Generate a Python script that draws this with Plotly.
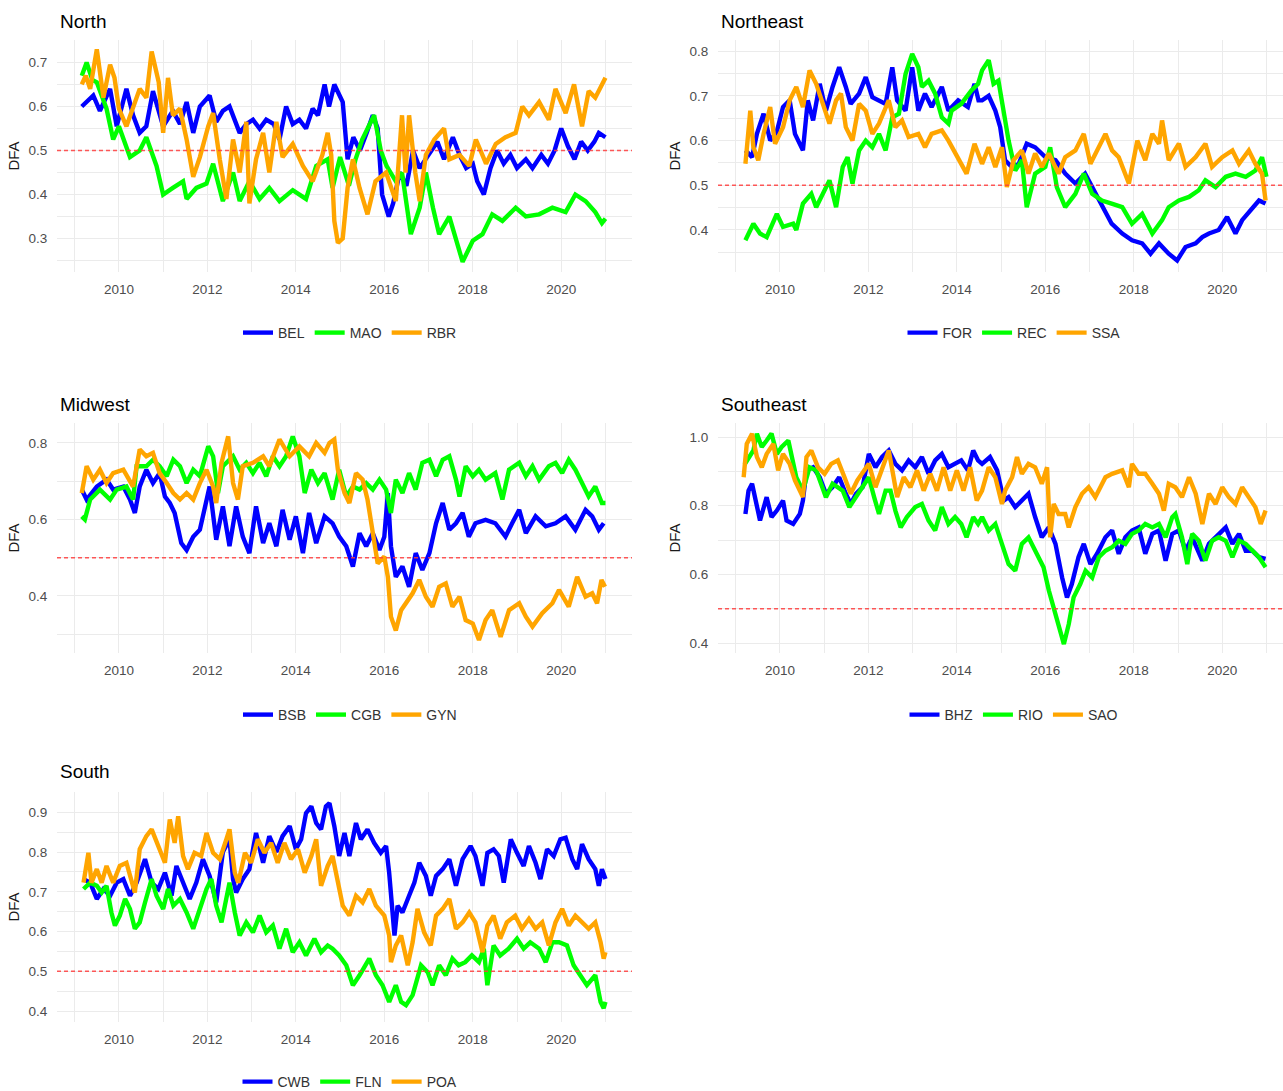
import plotly.graph_objects as go

# ---------------- DATA (decimal years, DFA values) ----------------
# North
BEL_t = [2009.16, 2009.27, 2009.42, 2009.57, 2009.8, 2009.95, 2010.17, 2010.32, 2010.47, 2010.62, 2010.77, 2011.0,
         2011.22, 2011.38, 2011.53, 2011.68, 2011.83, 2012.05, 2012.2, 2012.35, 2012.5, 2012.73, 2012.88, 2013.03,
         2013.18, 2013.33, 2013.5, 2013.63, 2013.78, 2013.93, 2014.08, 2014.23, 2014.38, 2014.5, 2014.65, 2014.75,
         2014.87, 2015.06, 2015.17, 2015.3, 2015.45, 2015.6, 2015.74, 2015.85, 2015.95, 2016.1, 2016.2, 2016.35,
         2016.5, 2016.65, 2016.8, 2017.0, 2017.2, 2017.35, 2017.55, 2017.7, 2017.85, 2018.0, 2018.1, 2018.25,
         2018.4, 2018.55, 2018.7, 2018.85, 2019.0, 2019.2, 2019.35, 2019.55, 2019.7, 2019.85, 2020.0, 2020.15,
         2020.3, 2020.45, 2020.6, 2020.75, 2020.85, 2021.0]
BEL_v = [0.60, 0.61, 0.625, 0.59, 0.64, 0.555, 0.64, 0.58, 0.54, 0.555, 0.635, 0.555,
         0.59, 0.56, 0.61, 0.54, 0.60, 0.625, 0.565, 0.59, 0.60, 0.54, 0.56, 0.57,
         0.55, 0.57, 0.56, 0.525, 0.60, 0.56, 0.57, 0.55, 0.595, 0.58, 0.65, 0.60,
         0.65, 0.61, 0.48, 0.53, 0.50, 0.54, 0.58, 0.55, 0.40, 0.35, 0.38, 0.45,
         0.42, 0.50, 0.46, 0.49, 0.52, 0.48, 0.53, 0.49, 0.46, 0.47, 0.43, 0.40,
         0.46, 0.50, 0.47, 0.49, 0.46, 0.48, 0.46, 0.49, 0.47, 0.50, 0.55, 0.51,
         0.48, 0.52, 0.50, 0.52, 0.54, 0.53]
MAO_t = [2009.16, 2009.27, 2009.4, 2009.5, 2009.72, 2009.87, 2010.0, 2010.25, 2010.47, 2010.62, 2010.85, 2011.0,
         2011.22, 2011.45, 2011.53, 2011.75, 2011.98, 2012.13, 2012.35, 2012.58, 2012.73, 2012.95, 2013.18, 2013.4,
         2013.63, 2013.93, 2014.23, 2014.46, 2014.72, 2014.83, 2015.0, 2015.2, 2015.35, 2015.5, 2015.77, 2015.92,
         2016.05, 2016.26, 2016.4, 2016.6, 2016.8, 2016.94, 2017.1, 2017.24, 2017.47, 2017.62, 2017.77, 2018.0,
         2018.22, 2018.44, 2018.67, 2018.97, 2019.2, 2019.5, 2019.8, 2020.1, 2020.32, 2020.55, 2020.77, 2020.92,
         2021.0]
MAO_v = [0.67, 0.70, 0.66, 0.655, 0.595, 0.525, 0.555, 0.485, 0.50, 0.53, 0.465, 0.40,
         0.415, 0.43, 0.39, 0.415, 0.425, 0.47, 0.385, 0.45, 0.385, 0.43, 0.39, 0.415,
         0.385, 0.41, 0.39, 0.465, 0.48, 0.415, 0.485, 0.42, 0.48, 0.525, 0.58, 0.50,
         0.465, 0.43, 0.45, 0.31, 0.37, 0.45, 0.37, 0.31, 0.35, 0.295, 0.247, 0.295,
         0.31, 0.355, 0.34, 0.37, 0.35, 0.355, 0.37, 0.36, 0.40, 0.385, 0.36, 0.335,
         0.345]
RBR_t = [2009.16, 2009.25, 2009.35, 2009.5, 2009.65, 2009.8, 2009.9, 2010.0, 2010.17, 2010.32, 2010.47, 2010.62,
         2010.74, 2010.9, 2011.0, 2011.11, 2011.22, 2011.38, 2011.53, 2011.68, 2011.83, 2012.02, 2012.13, 2012.28,
         2012.43, 2012.58, 2012.73, 2012.88, 2012.95, 2013.1, 2013.26, 2013.4, 2013.56, 2013.7, 2013.93, 2014.16,
         2014.38, 2014.6, 2014.72, 2014.8, 2014.87, 2014.95, 2015.06, 2015.17, 2015.29, 2015.44, 2015.62, 2015.8,
         2016.04, 2016.26, 2016.4, 2016.48, 2016.56, 2016.7, 2016.8, 2016.94, 2017.13, 2017.35, 2017.47, 2017.7,
         2017.92, 2018.07, 2018.3, 2018.52, 2018.74, 2018.97, 2019.12, 2019.27, 2019.5, 2019.72, 2019.87, 2020.1,
         2020.29, 2020.47, 2020.62, 2020.77, 2020.92, 2021.0]
RBR_v = [0.65, 0.67, 0.64, 0.73, 0.62, 0.695, 0.665, 0.595, 0.555, 0.595, 0.64, 0.62,
         0.725, 0.655, 0.54, 0.665, 0.58, 0.595, 0.525, 0.44, 0.485, 0.555, 0.585, 0.48,
         0.39, 0.525, 0.45, 0.565, 0.38, 0.48, 0.54, 0.45, 0.565, 0.485, 0.515, 0.465,
         0.43, 0.49, 0.54, 0.49, 0.34, 0.29, 0.30, 0.415, 0.48, 0.415, 0.355, 0.43,
         0.45, 0.385, 0.58, 0.45, 0.58, 0.45, 0.385, 0.49, 0.525, 0.55, 0.48, 0.49,
         0.465, 0.525, 0.47, 0.515, 0.53, 0.54, 0.60, 0.58, 0.61, 0.57, 0.64, 0.585,
         0.65, 0.555, 0.635, 0.62, 0.65, 0.665]

# Northeast
FOR_t = [2009.22, 2009.37, 2009.48, 2009.63, 2009.78, 2009.93, 2010.07, 2010.22, 2010.34, 2010.52, 2010.63, 2010.75,
         2010.9, 2011.04, 2011.19, 2011.34, 2011.49, 2011.6, 2011.79, 2011.94, 2012.09, 2012.24, 2012.39, 2012.54,
         2012.65, 2012.84, 2012.99, 2013.13, 2013.28, 2013.43, 2013.66, 2013.81, 2014.03, 2014.25, 2014.4, 2014.49,
         2014.57, 2014.72, 2014.87, 2014.98, 2015.09, 2015.25, 2015.4, 2015.58, 2015.77, 2016.0, 2016.23, 2016.45,
         2016.68, 2016.9, 2017.06, 2017.28, 2017.5, 2017.74, 2017.96, 2018.19, 2018.38, 2018.57, 2018.79, 2018.98,
         2019.17, 2019.4, 2019.55, 2019.7, 2019.92, 2020.11, 2020.3, 2020.45, 2020.68, 2020.83, 2020.98]
FOR_v = [0.578, 0.563, 0.615, 0.66, 0.60, 0.62, 0.675, 0.69, 0.615, 0.578, 0.69, 0.645,
         0.727, 0.667, 0.72, 0.764, 0.72, 0.682, 0.705, 0.742, 0.697, 0.69, 0.682, 0.764,
         0.69, 0.667, 0.764, 0.667, 0.705, 0.675, 0.72, 0.667, 0.69, 0.675, 0.727, 0.69,
         0.69, 0.70, 0.667, 0.63, 0.556, 0.54, 0.548, 0.593, 0.585, 0.563, 0.556, 0.526,
         0.504, 0.526, 0.496, 0.451, 0.414, 0.392, 0.377, 0.37, 0.347, 0.37, 0.347, 0.332,
         0.362, 0.37, 0.384, 0.392, 0.40, 0.429, 0.392, 0.422, 0.451, 0.466, 0.459]
REC_t = [2009.22, 2009.4, 2009.55, 2009.7, 2009.93, 2010.07, 2010.3, 2010.37, 2010.52, 2010.71, 2010.82, 2010.97,
         2011.12, 2011.27, 2011.42, 2011.53, 2011.64, 2011.79, 2011.94, 2012.09, 2012.24, 2012.39, 2012.54, 2012.69,
         2012.84, 2012.99, 2013.13, 2013.21, 2013.36, 2013.51, 2013.66, 2013.81, 2013.88, 2014.1, 2014.33, 2014.48,
         2014.57, 2014.72, 2014.83, 2014.94, 2015.06, 2015.17, 2015.32, 2015.47, 2015.58, 2015.77, 2016.0, 2016.11,
         2016.26, 2016.45, 2016.68, 2016.87, 2017.06, 2017.28, 2017.5, 2017.74, 2017.96, 2018.19, 2018.42, 2018.64,
         2018.79, 2019.02, 2019.25, 2019.47, 2019.62, 2019.85, 2020.08, 2020.3, 2020.53, 2020.75, 2020.9, 2021.0]
REC_v = [0.377, 0.414, 0.392, 0.384, 0.436, 0.407, 0.414, 0.40, 0.459, 0.481, 0.451, 0.481,
         0.511, 0.451, 0.541, 0.563, 0.504, 0.578, 0.60, 0.585, 0.615, 0.578, 0.652, 0.66,
         0.749, 0.794, 0.764, 0.72, 0.734, 0.705, 0.652, 0.638, 0.667, 0.682, 0.712, 0.727,
         0.757, 0.78, 0.727, 0.734, 0.66, 0.60, 0.533, 0.556, 0.451, 0.526, 0.541, 0.585,
         0.496, 0.451, 0.481, 0.526, 0.481, 0.466, 0.459, 0.451, 0.414, 0.436, 0.392, 0.422,
         0.451, 0.466, 0.474, 0.489, 0.511, 0.496, 0.519, 0.526, 0.519, 0.533, 0.563, 0.519]
SSA_t = [2009.22, 2009.33, 2009.4, 2009.51, 2009.63, 2009.78, 2009.89, 2010.07, 2010.22, 2010.37, 2010.52, 2010.67,
         2010.82, 2010.97, 2011.12, 2011.27, 2011.38, 2011.49, 2011.64, 2011.79, 2011.94, 2012.09, 2012.24, 2012.46,
         2012.61, 2012.76, 2012.91, 2013.13, 2013.28, 2013.43, 2013.66, 2013.81, 2013.96, 2014.1, 2014.22, 2014.4,
         2014.57, 2014.72, 2014.87, 2015.02, 2015.13, 2015.28, 2015.47, 2015.62, 2015.77, 2015.92, 2016.08, 2016.3,
         2016.45, 2016.68, 2016.87, 2017.02, 2017.21, 2017.36, 2017.51, 2017.66, 2017.89, 2018.08, 2018.26, 2018.42,
         2018.57, 2018.64, 2018.79, 2019.02, 2019.17, 2019.4, 2019.62, 2019.77, 2020.0, 2020.23, 2020.38, 2020.6,
         2020.75, 2020.9, 2020.98]
SSA_v = [0.548, 0.667, 0.585, 0.556, 0.615, 0.675, 0.593, 0.63, 0.69, 0.72, 0.675, 0.757,
         0.727, 0.682, 0.638, 0.69, 0.705, 0.63, 0.60, 0.682, 0.667, 0.615, 0.638, 0.69,
         0.63, 0.645, 0.608, 0.615, 0.585, 0.615, 0.623, 0.60, 0.571, 0.548, 0.526, 0.593,
         0.548, 0.585, 0.541, 0.585, 0.496, 0.556, 0.578, 0.526, 0.571, 0.541, 0.571, 0.526,
         0.563, 0.578, 0.615, 0.548, 0.585, 0.615, 0.578, 0.563, 0.504, 0.60, 0.556, 0.615,
         0.593, 0.645, 0.556, 0.593, 0.541, 0.563, 0.593, 0.541, 0.563, 0.578, 0.548, 0.578,
         0.548, 0.526, 0.466]

# Midwest
BSB_t = [2009.16, 2009.27, 2009.5, 2009.72, 2009.87, 2010.1, 2010.25, 2010.36, 2010.47, 2010.62, 2010.77, 2010.92,
         2011.04, 2011.15, 2011.26, 2011.41, 2011.53, 2011.68, 2011.83, 2011.98, 2012.05, 2012.2, 2012.35, 2012.5,
         2012.65, 2012.8, 2012.95, 2013.1, 2013.26, 2013.4, 2013.56, 2013.7, 2013.86, 2014.0, 2014.16, 2014.3,
         2014.46, 2014.65, 2014.83, 2014.98, 2015.14, 2015.29, 2015.44, 2015.59, 2015.74, 2015.89, 2016.0, 2016.08,
         2016.15, 2016.26, 2016.41, 2016.56, 2016.71, 2016.86, 2017.02, 2017.17, 2017.32, 2017.47, 2017.62, 2017.77,
         2017.91, 2018.06, 2018.29, 2018.51, 2018.74, 2018.89, 2019.05, 2019.2, 2019.42, 2019.65, 2019.87, 2020.1,
         2020.32, 2020.55, 2020.7, 2020.85, 2020.96]
BSB_v = [0.678, 0.652, 0.686, 0.704, 0.678, 0.686, 0.652, 0.617, 0.686, 0.73, 0.695, 0.721,
         0.66, 0.643, 0.617, 0.538, 0.52, 0.555, 0.573, 0.652, 0.686, 0.547, 0.634, 0.53,
         0.634, 0.555, 0.512, 0.634, 0.538, 0.59, 0.53, 0.625, 0.547, 0.608, 0.512, 0.617,
         0.538, 0.608, 0.59, 0.555, 0.53, 0.477, 0.564, 0.53, 0.564, 0.52, 0.555, 0.669,
         0.53, 0.45, 0.477, 0.424, 0.512, 0.468, 0.512, 0.59, 0.643, 0.573, 0.59, 0.617,
         0.555, 0.59, 0.599, 0.59, 0.555, 0.59, 0.625, 0.564, 0.608, 0.582, 0.59, 0.608,
         0.573, 0.625, 0.608, 0.573, 0.59]
CGB_t = [2009.16, 2009.23, 2009.35, 2009.57, 2009.8, 2009.95, 2010.17, 2010.32, 2010.4, 2010.62, 2010.77, 2010.92,
         2011.08, 2011.23, 2011.38, 2011.53, 2011.68, 2011.83, 2012.02, 2012.13, 2012.24, 2012.35, 2012.58, 2012.73,
         2012.88, 2013.03, 2013.18, 2013.33, 2013.48, 2013.63, 2013.78, 2013.93, 2014.08, 2014.2, 2014.35, 2014.5,
         2014.65, 2014.83, 2014.98, 2015.14, 2015.29, 2015.44, 2015.59, 2015.74, 2015.89, 2016.04, 2016.15, 2016.26,
         2016.41, 2016.56, 2016.71, 2016.86, 2017.02, 2017.17, 2017.32, 2017.47, 2017.62, 2017.7, 2017.84, 2018.0,
         2018.14, 2018.29, 2018.51, 2018.67, 2018.82, 2019.05, 2019.2, 2019.35, 2019.5, 2019.72, 2019.87, 2020.02,
         2020.17, 2020.32, 2020.47, 2020.62, 2020.77, 2020.92, 2021.0]
CGB_v = [0.608, 0.60, 0.652, 0.678, 0.652, 0.678, 0.686, 0.652, 0.739, 0.739, 0.756, 0.739,
         0.713, 0.756, 0.739, 0.695, 0.73, 0.713, 0.791, 0.765, 0.669, 0.739, 0.765, 0.73,
         0.748, 0.721, 0.748, 0.713, 0.765, 0.739, 0.765, 0.817, 0.765, 0.669, 0.73, 0.695,
         0.721, 0.652, 0.73, 0.66, 0.686, 0.678, 0.695, 0.678, 0.704, 0.678, 0.617, 0.704,
         0.669, 0.721, 0.678, 0.748, 0.756, 0.713, 0.756, 0.765, 0.704, 0.66, 0.739, 0.713,
         0.73, 0.704, 0.721, 0.652, 0.73, 0.748, 0.713, 0.739, 0.704, 0.739, 0.748, 0.721,
         0.756, 0.73, 0.695, 0.66, 0.686, 0.643, 0.643]
GYN_t = [2009.16, 2009.27, 2009.42, 2009.57, 2009.72, 2009.87, 2010.1, 2010.32, 2010.47, 2010.62, 2010.77, 2010.92,
         2011.08, 2011.23, 2011.38, 2011.53, 2011.68, 2011.83, 2011.98, 2012.13, 2012.2, 2012.32, 2012.47, 2012.58,
         2012.69, 2012.8, 2013.03, 2013.26, 2013.4, 2013.63, 2013.86, 2014.08, 2014.3, 2014.46, 2014.65, 2014.76,
         2014.87, 2014.95, 2015.1, 2015.21, 2015.36, 2015.51, 2015.62, 2015.74, 2015.85, 2016.0, 2016.08, 2016.15,
         2016.26, 2016.38, 2016.49, 2016.64, 2016.79, 2016.94, 2017.09, 2017.24, 2017.39, 2017.54, 2017.7, 2017.84,
         2018.0, 2018.14, 2018.29, 2018.44, 2018.63, 2018.82, 2019.05, 2019.2, 2019.35, 2019.57, 2019.8, 2019.95,
         2020.17, 2020.36, 2020.55, 2020.7, 2020.81, 2020.91, 2020.99]
GYN_v = [0.669, 0.739, 0.704, 0.73, 0.695, 0.721, 0.73, 0.686, 0.783, 0.765, 0.774, 0.721,
         0.695, 0.669, 0.652, 0.669, 0.652, 0.695, 0.73, 0.686, 0.643, 0.748, 0.817, 0.695,
         0.652, 0.739, 0.748, 0.765, 0.739, 0.809, 0.765, 0.791, 0.765, 0.80, 0.774, 0.80,
         0.809, 0.73, 0.669, 0.643, 0.721, 0.704, 0.652, 0.555, 0.485, 0.503, 0.45, 0.346,
         0.31, 0.363, 0.381, 0.407, 0.442, 0.398, 0.372, 0.424, 0.433, 0.372, 0.398, 0.337,
         0.328, 0.285, 0.337, 0.363, 0.293, 0.363, 0.381, 0.346, 0.32, 0.355, 0.381, 0.416,
         0.372, 0.45, 0.398, 0.407, 0.381, 0.442, 0.424]

# Southeast
BHZ_t = [2009.22, 2009.29, 2009.37, 2009.48, 2009.55, 2009.7, 2009.81, 2009.93, 2010.07, 2010.15, 2010.3, 2010.45,
         2010.52, 2010.6, 2010.75, 2010.9, 2011.04, 2011.19, 2011.34, 2011.49, 2011.6, 2011.72, 2011.87, 2012.01,
         2012.16, 2012.31, 2012.46, 2012.61, 2012.76, 2012.91, 2013.06, 2013.21, 2013.36, 2013.51, 2013.66, 2013.81,
         2013.96, 2014.1, 2014.25, 2014.37, 2014.48, 2014.57, 2014.75, 2014.91, 2015.06, 2015.17, 2015.32, 2015.47,
         2015.62, 2015.77, 2015.92, 2016.08, 2016.23, 2016.38, 2016.49, 2016.6, 2016.75, 2016.87, 2017.02, 2017.17,
         2017.36, 2017.51, 2017.66, 2017.81, 2017.96, 2018.11, 2018.26, 2018.42, 2018.57, 2018.72, 2018.87, 2019.02,
         2019.17, 2019.32, 2019.55, 2019.7, 2019.85, 2020.08, 2020.23, 2020.38, 2020.53, 2020.68, 2020.83, 2020.98]
BHZ_v = [0.776, 0.844, 0.864, 0.796, 0.757, 0.825, 0.767, 0.786, 0.815, 0.757, 0.747, 0.776,
         0.815, 0.903, 0.912, 0.883, 0.835, 0.854, 0.883, 0.835, 0.805, 0.835, 0.854, 0.951,
         0.912, 0.942, 0.961, 0.922, 0.903, 0.932, 0.912, 0.942, 0.893, 0.932, 0.951, 0.912,
         0.922, 0.932, 0.903, 0.961, 0.932, 0.922, 0.942, 0.903, 0.815, 0.825, 0.796, 0.815,
         0.835, 0.767, 0.708, 0.737, 0.689, 0.591, 0.533, 0.572, 0.65, 0.689, 0.63, 0.66,
         0.708, 0.728, 0.66, 0.708, 0.728, 0.737, 0.66, 0.718, 0.728, 0.64, 0.718, 0.728,
         0.669, 0.708, 0.64, 0.689, 0.708, 0.737, 0.689, 0.718, 0.669, 0.669, 0.65, 0.645]
RIO_t = [2009.2, 2009.4, 2009.48, 2009.59, 2009.7, 2009.81, 2009.93, 2010.04, 2010.19, 2010.26, 2010.37, 2010.52,
         2010.67, 2010.82, 2010.97, 2011.04, 2011.19, 2011.42, 2011.57, 2011.72, 2011.87, 2012.01, 2012.13, 2012.24,
         2012.39, 2012.5, 2012.61, 2012.73, 2012.87, 2013.06, 2013.21, 2013.36, 2013.51, 2013.66, 2013.81, 2013.96,
         2014.1, 2014.22, 2014.37, 2014.48, 2014.57, 2014.72, 2014.87, 2015.02, 2015.17, 2015.32, 2015.47, 2015.62,
         2015.77, 2015.96, 2016.08, 2016.19, 2016.3, 2016.42, 2016.53, 2016.64, 2016.79, 2016.91, 2017.06, 2017.21,
         2017.36, 2017.51, 2017.66, 2017.81, 2017.96, 2018.11, 2018.26, 2018.42, 2018.57, 2018.72, 2018.87, 2018.94,
         2019.09, 2019.21, 2019.32, 2019.47, 2019.62, 2019.77, 2019.92, 2020.08, 2020.23, 2020.38, 2020.53, 2020.68,
         2020.83, 2020.98]
RIO_v = [0.92, 0.961, 1.01, 0.971, 0.99, 1.01, 0.951, 0.971, 0.99, 0.942, 0.883, 0.844,
         0.912, 0.903, 0.854, 0.825, 0.864, 0.844, 0.796, 0.825, 0.854, 0.883, 0.825, 0.776,
         0.844, 0.844, 0.786, 0.737, 0.767, 0.796, 0.805, 0.757, 0.728, 0.796, 0.747, 0.767,
         0.747, 0.708, 0.767, 0.747, 0.767, 0.728, 0.747, 0.689, 0.63, 0.611, 0.689, 0.708,
         0.669, 0.621, 0.553, 0.504, 0.455, 0.397, 0.455, 0.533, 0.572, 0.611, 0.591, 0.65,
         0.669, 0.679, 0.698, 0.689, 0.718, 0.728, 0.747, 0.737, 0.747, 0.708, 0.767, 0.776,
         0.708, 0.63, 0.718, 0.698, 0.64, 0.698, 0.708, 0.698, 0.65, 0.698, 0.689, 0.669,
         0.65, 0.621]
SAO_t = [2009.18, 2009.25, 2009.37, 2009.48, 2009.59, 2009.7, 2009.85, 2009.96, 2010.07, 2010.22, 2010.34, 2010.45,
         2010.52, 2010.6, 2010.71, 2010.86, 2011.01, 2011.16, 2011.31, 2011.46, 2011.6, 2011.75, 2011.9, 2012.01,
         2012.16, 2012.31, 2012.46, 2012.57, 2012.65, 2012.8, 2012.95, 2013.1, 2013.25, 2013.4, 2013.55, 2013.7,
         2013.85, 2014.0, 2014.15, 2014.3, 2014.45, 2014.57, 2014.72, 2014.87, 2015.02, 2015.09, 2015.25, 2015.36,
         2015.47, 2015.62, 2015.77, 2015.92, 2016.04, 2016.11, 2016.19, 2016.3, 2016.45, 2016.53, 2016.68, 2016.83,
         2016.98, 2017.13, 2017.36, 2017.51, 2017.74, 2017.89, 2017.96, 2018.11, 2018.26, 2018.42, 2018.57, 2018.68,
         2018.79, 2018.94, 2019.09, 2019.25, 2019.4, 2019.55, 2019.7, 2019.85, 2020.0, 2020.15, 2020.3, 2020.45,
         2020.6, 2020.75, 2020.87, 2020.98]
SAO_v = [0.883, 0.98, 1.01, 0.942, 0.912, 0.951, 0.98, 0.903, 0.951, 0.922, 0.874, 0.844,
         0.825, 0.942, 0.961, 0.912, 0.893, 0.922, 0.932, 0.883, 0.835, 0.874, 0.903, 0.922,
         0.854, 0.912, 0.961, 0.883, 0.825, 0.883, 0.854, 0.903, 0.844, 0.893, 0.844, 0.912,
         0.844, 0.903, 0.844, 0.912, 0.815, 0.844, 0.912, 0.883, 0.805, 0.844, 0.883, 0.942,
         0.893, 0.922, 0.912, 0.864, 0.912, 0.708, 0.805, 0.776, 0.776, 0.737, 0.796, 0.835,
         0.854, 0.825, 0.883, 0.893, 0.903, 0.854, 0.922, 0.893, 0.893, 0.864, 0.835, 0.786,
         0.864, 0.854, 0.825, 0.883, 0.835, 0.747, 0.835, 0.805, 0.854, 0.825, 0.805, 0.854,
         0.825, 0.796, 0.747, 0.786]

# South
CWB_t = [2009.2, 2009.35, 2009.5, 2009.65, 2009.8, 2009.95, 2010.1, 2010.25, 2010.4, 2010.59, 2010.74, 2010.89,
         2011.04, 2011.19, 2011.3, 2011.45, 2011.6, 2011.75, 2011.9, 2012.05, 2012.2, 2012.35, 2012.5, 2012.58,
         2012.65, 2012.8, 2012.95, 2013.1, 2013.26, 2013.4, 2013.56, 2013.7, 2013.86, 2014.0, 2014.12, 2014.23,
         2014.35, 2014.46, 2014.57, 2014.68, 2014.76, 2014.87, 2014.98, 2015.1, 2015.21, 2015.36, 2015.47, 2015.62,
         2015.77, 2015.92, 2016.04, 2016.11, 2016.19, 2016.23, 2016.3, 2016.41, 2016.56, 2016.68, 2016.79, 2016.94,
         2017.05, 2017.17, 2017.32, 2017.47, 2017.62, 2017.77, 2017.95, 2018.06, 2018.22, 2018.33, 2018.47, 2018.59,
         2018.7, 2018.86, 2019.0, 2019.15, 2019.27, 2019.42, 2019.53, 2019.68, 2019.83, 2019.98, 2020.1, 2020.25,
         2020.36, 2020.47, 2020.62, 2020.77, 2020.85, 2020.92, 2021.0]
CWB_v = [0.732, 0.723, 0.682, 0.707, 0.69, 0.723, 0.732, 0.69, 0.723, 0.782, 0.723, 0.707,
         0.748, 0.69, 0.765, 0.723, 0.682, 0.723, 0.782, 0.74, 0.673, 0.80, 0.832, 0.732,
         0.698, 0.732, 0.757, 0.848, 0.773, 0.84, 0.80, 0.84, 0.865, 0.807, 0.832, 0.898,
         0.915, 0.873, 0.857, 0.915, 0.923, 0.865, 0.79, 0.848, 0.79, 0.873, 0.832, 0.857,
         0.823, 0.798, 0.815, 0.748, 0.657, 0.59, 0.665, 0.648, 0.69, 0.723, 0.773, 0.74,
         0.69, 0.74, 0.757, 0.782, 0.715, 0.782, 0.815, 0.79, 0.715, 0.798, 0.807, 0.79,
         0.723, 0.832, 0.798, 0.765, 0.815, 0.773, 0.732, 0.807, 0.79, 0.832, 0.836, 0.782,
         0.757, 0.82, 0.782, 0.757, 0.715, 0.757, 0.732]
FLN_t = [2009.2, 2009.35, 2009.5, 2009.61, 2009.72, 2009.83, 2009.91, 2010.02, 2010.14, 2010.25, 2010.36, 2010.47,
         2010.59, 2010.74, 2010.85, 2011.0, 2011.11, 2011.23, 2011.38, 2011.53, 2011.68, 2011.83, 2011.98, 2012.09,
         2012.2, 2012.32, 2012.43, 2012.5, 2012.62, 2012.73, 2012.88, 2013.03, 2013.18, 2013.33, 2013.48, 2013.63,
         2013.78, 2013.93, 2014.08, 2014.23, 2014.42, 2014.57, 2014.72, 2014.83, 2014.98, 2015.14, 2015.29, 2015.44,
         2015.66, 2015.81, 2015.96, 2016.11, 2016.26, 2016.38, 2016.49, 2016.64, 2016.83, 2016.98, 2017.09, 2017.24,
         2017.39, 2017.54, 2017.68, 2017.83, 2017.98, 2018.14, 2018.25, 2018.33, 2018.47, 2018.62, 2018.81, 2019.0,
         2019.15, 2019.3, 2019.5, 2019.65, 2019.8, 2019.95, 2020.13, 2020.28, 2020.43, 2020.58, 2020.77, 2020.89,
         2020.96, 2021.0]
FLN_v = [0.707, 0.723, 0.715, 0.698, 0.715, 0.648, 0.615, 0.64, 0.682, 0.657, 0.607, 0.623,
         0.673, 0.732, 0.69, 0.657, 0.707, 0.665, 0.682, 0.648, 0.607, 0.657, 0.707, 0.732,
         0.665, 0.623, 0.69, 0.723, 0.648, 0.59, 0.623, 0.598, 0.64, 0.598, 0.615, 0.557,
         0.607, 0.548, 0.573, 0.54, 0.582, 0.548, 0.565, 0.557, 0.54, 0.515, 0.465, 0.49,
         0.532, 0.49, 0.465, 0.423, 0.465, 0.423, 0.415, 0.44, 0.515, 0.498, 0.465, 0.515,
         0.49, 0.532, 0.515, 0.523, 0.54, 0.523, 0.557, 0.465, 0.565, 0.54, 0.557, 0.582,
         0.557, 0.573, 0.557, 0.523, 0.573, 0.573, 0.565, 0.515, 0.49, 0.465, 0.49, 0.423,
         0.407, 0.423]
POA_t = [2009.2, 2009.31, 2009.38, 2009.5, 2009.61, 2009.72, 2009.87, 2010.02, 2010.17, 2010.29, 2010.36, 2010.47,
         2010.62, 2010.74, 2010.89, 2011.04, 2011.15, 2011.26, 2011.34, 2011.45, 2011.56, 2011.71, 2011.86, 2011.98,
         2012.13, 2012.28, 2012.43, 2012.5, 2012.62, 2012.7, 2012.85, 2012.99, 2013.14, 2013.29, 2013.44, 2013.59,
         2013.74, 2013.89, 2014.05, 2014.2, 2014.35, 2014.46, 2014.57, 2014.72, 2014.83, 2014.95, 2015.06, 2015.21,
         2015.36, 2015.51, 2015.66, 2015.81, 2016.0, 2016.11, 2016.15, 2016.26, 2016.38, 2016.53, 2016.64, 2016.75,
         2016.9, 2017.05, 2017.17, 2017.32, 2017.47, 2017.62, 2017.77, 2017.92, 2018.06, 2018.22, 2018.33, 2018.47,
         2018.62, 2018.77, 2018.96, 2019.11, 2019.27, 2019.42, 2019.57, 2019.72, 2019.87, 2020.02, 2020.17, 2020.32,
         2020.47, 2020.62, 2020.77, 2020.89, 2020.96, 2021.0]
POA_v = [0.723, 0.798, 0.723, 0.757, 0.723, 0.765, 0.723, 0.765, 0.773, 0.723, 0.698, 0.807,
         0.84, 0.857, 0.815, 0.773, 0.882, 0.823, 0.89, 0.79, 0.757, 0.798, 0.79, 0.848,
         0.798, 0.782, 0.832, 0.857, 0.748, 0.723, 0.798, 0.773, 0.832, 0.798, 0.823, 0.773,
         0.823, 0.782, 0.807, 0.748, 0.79, 0.832, 0.715, 0.765, 0.79, 0.723, 0.665, 0.64,
         0.69, 0.673, 0.707, 0.665, 0.64, 0.59, 0.523, 0.565, 0.59, 0.515, 0.573, 0.657,
         0.598, 0.565, 0.64, 0.657, 0.682, 0.607, 0.623, 0.648, 0.623, 0.548, 0.615, 0.64,
         0.582, 0.623, 0.64, 0.607, 0.632, 0.607, 0.623, 0.565, 0.623, 0.657, 0.615, 0.64,
         0.623, 0.607, 0.623, 0.573, 0.532, 0.548]

# Panel titles and legend labels
PANEL_TITLES = ["North", "Northeast", "Midwest", "Southeast", "South"]
PANEL_SERIES = [
    [("BEL", BEL_t, BEL_v), ("MAO", MAO_t, MAO_v), ("RBR", RBR_t, RBR_v)],
    [("FOR", FOR_t, FOR_v), ("REC", REC_t, REC_v), ("SSA", SSA_t, SSA_v)],
    [("BSB", BSB_t, BSB_v), ("CGB", CGB_t, CGB_v), ("GYN", GYN_t, GYN_v)],
    [("BHZ", BHZ_t, BHZ_v), ("RIO", RIO_t, RIO_v), ("SAO", SAO_t, SAO_v)],
    [("CWB", CWB_t, CWB_v), ("FLN", FLN_t, FLN_v), ("POA", POA_t, POA_v)],
]
X_TICKS = [2010, 2012, 2014, 2016, 2018, 2020]
REFERENCE_LEVEL = 0.5

# ---------------- LAYOUT / STYLE ----------------
W, H = 1283, 1091
COLORS = ["#0000ff", "#00ff00", "#ffa500"]
FONT = "Liberation Sans, Arial, sans-serif"
GRID = "#ebebeb"

def px_x(p):
    return p / W

def px_y(p):
    return 1 - p / H

# per-panel geometry (pixels) and axis settings
geo = [
    dict(x0=57, x1=632, y0=40, y1=272, xr=[2008.6, 2021.6], yr=[0.224, 0.751], dt=0.1, mdt=0.05,
         title_xy=(58, 22), leg_xy=(350, 333)),
    dict(x0=718, x1=1283, y0=40, y1=272, xr=[2008.6, 2021.374], yr=[0.306, 0.825], dt=0.1, mdt=0.05,
         title_xy=(719, 22), leg_xy=(1014, 333)),
    dict(x0=57, x1=632, y0=423, y1=653, xr=[2008.6, 2021.6], yr=[0.251, 0.852], dt=0.2, mdt=0.1,
         title_xy=(58, 404), leg_xy=(350, 715)),
    dict(x0=718, x1=1283, y0=423, y1=653, xr=[2008.6, 2021.374], yr=[0.371, 1.041], dt=0.2, mdt=0.1,
         title_xy=(719, 404), leg_xy=(1014, 715)),
    dict(x0=57, x1=632, y0=792, y1=1022, xr=[2008.6, 2021.6], yr=[0.3725, 0.951], dt=0.1, mdt=0.05,
         title_xy=(58, 771), leg_xy=(350, 1082)),
]

fig = go.Figure()
layout = dict(
    width=W, height=H,
    margin=dict(l=0, r=0, t=0, b=0, autoexpand=False),
    paper_bgcolor="white", plot_bgcolor="white",
    font=dict(family=FONT, color="#4d4d4d"),
    annotations=[], shapes=[],
)

for i, (title, series) in enumerate(zip(PANEL_TITLES, PANEL_SERIES)):
    g = geo[i]
    n = i + 1
    xa = "x" if n == 1 else f"x{n}"
    ya = "y" if n == 1 else f"y{n}"
    leg = "legend" if n == 1 else f"legend{n}"
    for (name, t, v), col in zip(series, COLORS):
        fig.add_trace(go.Scatter(
            x=t, y=v, mode="lines", name=name, xaxis=xa, yaxis=ya, legend=leg,
            line=dict(color=col, width=4.4), hoverinfo="x+y+name",
        ))
    xkey = "xaxis" if n == 1 else f"xaxis{n}"
    ykey = "yaxis" if n == 1 else f"yaxis{n}"
    layout[xkey] = dict(
        domain=[px_x(g["x0"]), px_x(g["x1"])], range=g["xr"], anchor=ya,
        tickmode="array", tickvals=X_TICKS, ticktext=[str(v) for v in X_TICKS],
        showgrid=True, gridcolor=GRID, gridwidth=1.4, zeroline=False, showline=False,
        ticks="outside", ticklen=5, tickcolor="rgba(0,0,0,0)",
        tickfont=dict(size=13.5, color="#4d4d4d", family=FONT),
        minor=dict(tick0=2009, dtick=1, showgrid=True, gridcolor=GRID, gridwidth=0.8),
        fixedrange=True,
    )
    layout[ykey] = dict(
        domain=[px_y(g["y1"]), px_y(g["y0"])], range=g["yr"], anchor=xa,
        tick0=0, dtick=g["dt"], tickformat=".1f",
        showgrid=True, gridcolor=GRID, gridwidth=1.4, zeroline=False, showline=False,
        ticks="outside", ticklen=6, tickcolor="rgba(0,0,0,0)",
        tickfont=dict(size=13.5, color="#4d4d4d", family=FONT),
        minor=dict(tick0=0, dtick=g["mdt"], showgrid=True, gridcolor=GRID, gridwidth=0.8),
        title=dict(text="DFA", font=dict(size=15, color="#1a1a1a", family=FONT), standoff=5),
        fixedrange=True,
    )
    layout["shapes"].append(dict(
        type="line", xref=f"{xa} domain", x0=0, x1=1, yref=ya, y0=REFERENCE_LEVEL, y1=REFERENCE_LEVEL,
        line=dict(color="rgba(255,60,60,0.85)", width=1.4, dash="4px,3px"), layer="above",
    ))
    layout["annotations"].append(dict(
        text=title, xref="paper", yref="paper",
        x=px_x(g["title_xy"][0]), y=px_y(g["title_xy"][1]), xanchor="left", yanchor="middle",
        showarrow=False, font=dict(size=19, color="#000000", family=FONT),
    ))
    layout[leg] = dict(
        orientation="h", x=px_x(g["leg_xy"][0]), y=px_y(g["leg_xy"][1]),
        xanchor="center", yanchor="middle", bgcolor="rgba(0,0,0,0)",
        font=dict(size=14, color="#333333", family=FONT), itemwidth=30, tracegroupgap=0,
    )

fig.update_layout(**layout)
fig.write_html("out.html", config={"displayModeBar": False},
               post_script="document.body.style.margin='0';document.body.style.overflow='hidden';")
